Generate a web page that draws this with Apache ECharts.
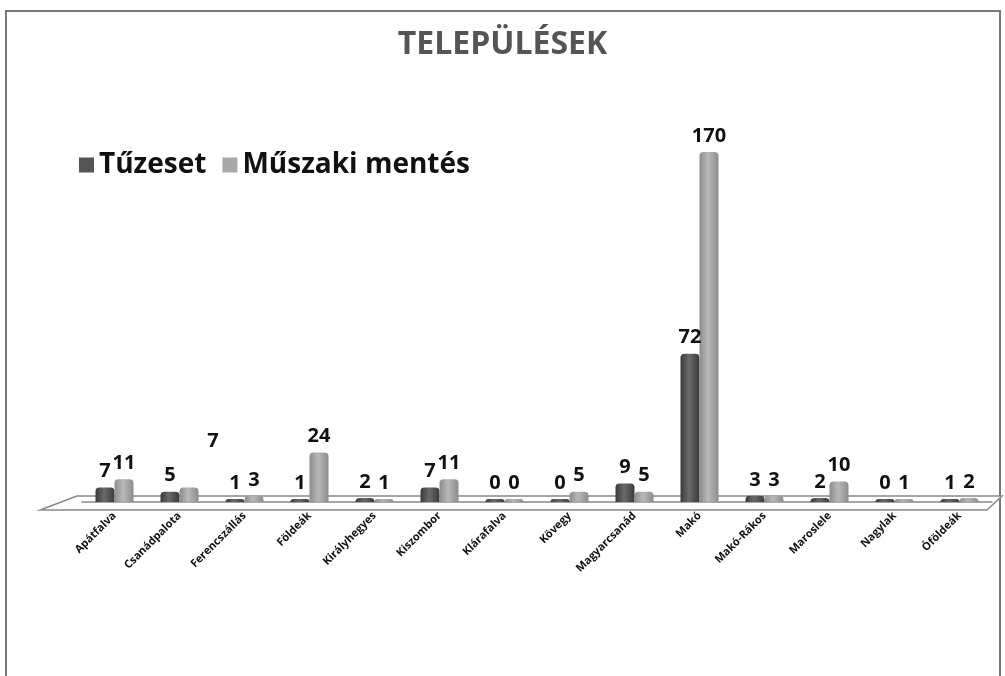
<!DOCTYPE html>
<html>
<head>
<meta charset="utf-8">
<script src="https://cdn.jsdelivr.net/npm/echarts@6/dist/echarts.min.js"></script>
<style>
    html, body { margin: 0; padding: 0; background: #fff; }
    .frame {
        position: absolute; left: 5px; top: 10px; width: 996px; height: 680px;
        border: 2px solid #777; box-sizing: border-box;
    }
    #main { position: absolute; left: 0; top: 0; width: 1005px; height: 676px; }
</style>
</head>
<body>
<div class="frame"></div>
<div id="main"></div>
<script>
    var categories = ['Apátfalva', 'Csanádpalota', 'Ferencszállás', 'Földeák', 'Királyhegyes', 'Kiszombor',
        'Klárafalva', 'Kövegy', 'Magyarcsanád', 'Makó', 'Makó-Rákos', 'Maroslele', 'Nagylak', 'Óföldeák'];
    var tuzeset = [7, 5, 1, 1, 2, 7, 0, 0, 9, 72, 3, 2, 0, 1];
    var muszaki = [11, 7, 3, 24, 1, 11, 0, 5, 5, 170, 3, 10, 1, 2];

    var font = '"Open Sans", "DejaVu Sans", sans-serif';
    var myChart = echarts.init(document.getElementById('main'));

    function cyl(c1, c2) {
        return new echarts.graphic.LinearGradient(0, 0, 1, 0, [
            {offset: 0, color: c1},
            {offset: 0.45, color: c2},
            {offset: 1, color: c1}
        ]);
    }

    var labelStyle = {
        show: true, position: 'top', distance: 6,
        fontFamily: font, fontSize: 20, fontWeight: 'bold', color: '#111'
    };

    // in the original the "7" of Csanádpalota floats well above its bar
    var muszakiData = muszaki.map(function (v, i) {
        if (categories[i] === 'Csanádpalota') {
            return {value: v, label: {offset: [24, -30]}};
        }
        return v;
    });

    var option = {
        animation: false,
        title: {
            text: 'TELEPÜLÉSEK',
            left: 'center',
            top: 24,
            textStyle: {fontFamily: font, fontSize: 32, fontWeight: 'bold', color: '#555'}
        },
        legend: {
            data: [
                {name: 'Tűzeset', itemStyle: {color: '#555'}},
                {name: 'Műszaki mentés', itemStyle: {color: '#a8a8a8'}}
            ],
            left: 74,
            top: 146,
            icon: 'rect',
            itemWidth: 15,
            itemHeight: 15,
            itemGap: 16,
            textStyle: {fontFamily: font, fontSize: 28, fontWeight: 'bold', color: '#111'}
        },
        grid: {left: 82, right: 13, top: 152, bottom: 174},
        xAxis: {
            type: 'category',
            data: categories,
            axisTick: {show: false},
            axisLine: {lineStyle: {color: '#888', width: 1.5}},
            axisLabel: {
                interval: 0,
                rotate: 45,
                margin: 12,
                fontFamily: font,
                fontSize: 11,
                fontWeight: 'bold',
                color: '#111'
            }
        },
        yAxis: {
            type: 'value',
            min: 0,
            max: 170,
            show: false
        },
        series: [
            {
                name: 'Tűzeset',
                type: 'bar',
                data: tuzeset,
                barWidth: 19,
                barGap: '0%',
                barMinHeight: 3,
                itemStyle: {color: cyl('#3a3a3a', '#6a6a6a'), borderRadius: [4, 4, 0, 0]},
                label: labelStyle
            },
            {
                name: 'Műszaki mentés',
                type: 'bar',
                data: muszakiData,
                barWidth: 19,
                barMinHeight: 3,
                itemStyle: {color: cyl('#8c8c8c', '#b8b8b8'), borderRadius: [4, 4, 0, 0]},
                label: labelStyle
            }
        ]
    };

    option && myChart.setOption(option);

    // flat floor under the bars, taken from the grid
    var r = myChart.getModel().getComponent('grid').coordinateSystem.getRect();
    var y0 = r.y + r.height;
    myChart.setOption({
        graphic: [{
            type: 'polygon',
            z: -1,
            shape: {points: [[r.x - 5, y0 - 6], [r.x + r.width + 10, y0 - 6], [r.x + r.width - 5, y0 + 8], [r.x - 42, y0 + 8]]},
            style: {fill: '#fff', stroke: '#888', lineWidth: 1.5}
        }]
    });
</script>
</body>
</html>
